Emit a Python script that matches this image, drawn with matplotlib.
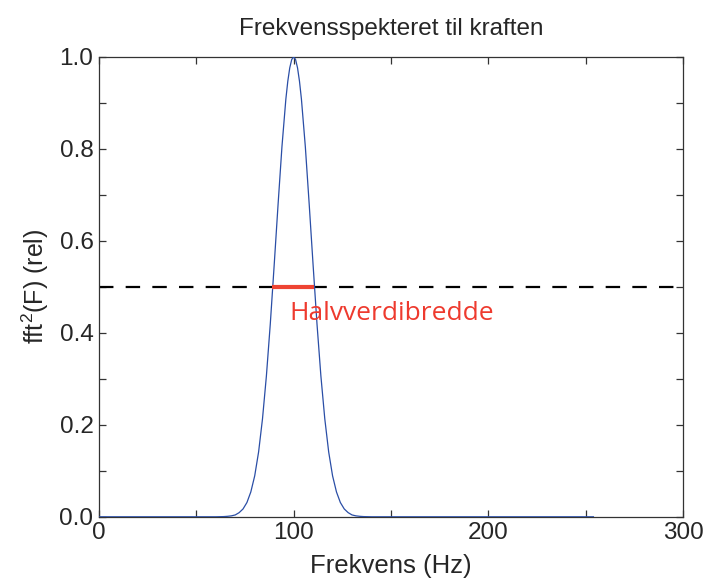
import matplotlib
matplotlib.use('Agg')
from matplotlib import pyplot as plt
from matplotlib.ticker import MultipleLocator
import numpy as np

# spectrum (Hz, relative power)
freq = [0, 60, 64, 66, 68, 70, 72, 74, 76, 78, 80, 82, 84, 86, 88, 90, 92, 94, 96, 97, 98, 99,
        100, 101, 102, 103, 104, 106, 108, 110, 112, 114, 116, 118, 120, 122, 124, 126, 128,
        130, 132, 134, 136, 140, 254]
power = [0, 0, 0.0004, 0.001, 0.002, 0.004, 0.009, 0.017, 0.031, 0.054, 0.089, 0.141,
         0.213, 0.306, 0.419, 0.547, 0.679, 0.805, 0.908, 0.947, 0.976, 0.994,
         1.0, 0.994, 0.976, 0.947, 0.908, 0.805, 0.679, 0.547, 0.419, 0.306, 0.213, 0.141, 0.089,
         0.054, 0.031, 0.017, 0.009, 0.004, 0.002, 0.001, 0.0004, 0, 0]

half_level = 0.5
half_width = [89, 110.5]
label_text = 'Halvverdibredde'

plt.rcParams['font.family'] = ['Liberation Sans', 'DejaVu Sans']
plt.rcParams['mathtext.fontset'] = 'custom'
plt.rcParams['mathtext.rm'] = 'Liberation Sans'
plt.rcParams['mathtext.it'] = 'Liberation Sans'

txt = '#262626'

fig = plt.figure(figsize=(7.07, 5.8), dpi=100)
ax = fig.add_axes([0.140, 0.109, 0.826, 0.793])

ax.plot(freq, power, color='#2a4ea6', lw=0.9, zorder=3)
ax.axhline(half_level, color='black', lw=1.6, dashes=(6.5, 5.5), zorder=2)
ax.plot(half_width, [half_level, half_level], color='#ee4433', lw=3, solid_capstyle='butt', zorder=4)
ax.text(98, 0.427, label_text, color='#ee3a2e', fontsize=19, family='Open Sans',
        ha='left', va='baseline')

ax.set_xlim(0, 300)
ax.set_ylim(0, 1)
ax.xaxis.set_major_locator(MultipleLocator(100))
ax.xaxis.set_minor_locator(MultipleLocator(50))
ax.yaxis.set_major_locator(MultipleLocator(0.2))
ax.yaxis.set_minor_locator(MultipleLocator(0.1))
ax.yaxis.set_major_formatter(matplotlib.ticker.FormatStrFormatter('%.1f'))
ax.tick_params(which='both', direction='in', top=True, right=True, colors='#333333',
               labelcolor=txt, labelsize=17.5, width=0.9)
ax.tick_params(which='major', length=5, pad=4)
ax.tick_params(which='minor', length=5)
for s in ax.spines.values():
    s.set_color('#333333')
    s.set_linewidth(0.9)

ax.set_title('Frekvensspekteret til kraften', fontsize=17.5, color=txt, pad=16)
ax.set_xlabel('Frekvens (Hz)', fontsize=18.5, color=txt, labelpad=7)
ax.set_ylabel(r'fft$^{2}$(F) (rel)', fontsize=18, color=txt, labelpad=6)

fig.savefig('out.png', dpi=100)
